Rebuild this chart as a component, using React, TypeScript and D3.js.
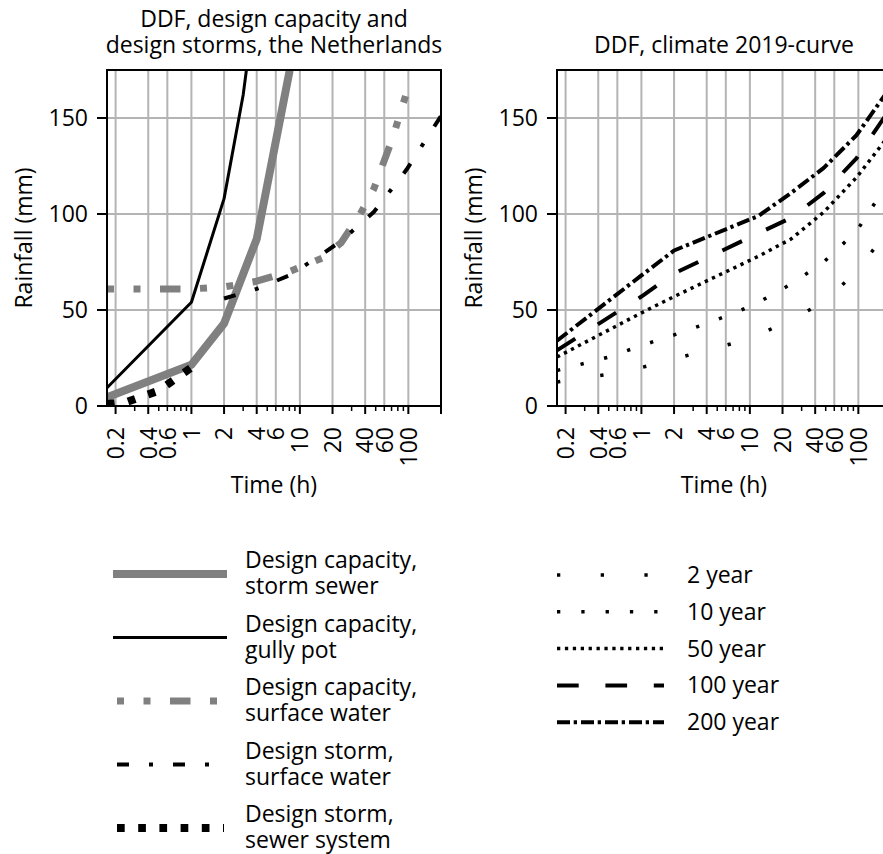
import React from "react";
import * as d3 from "d3";

// durations in hours, rainfall in mm
const stormSewer: [number, number][] = [[1 / 6, 4.5], [1, 21.5], [2, 43], [4, 87], [8, 174], [12, 260]];
const gullyPot: [number, number][] = [[1 / 6, 9.5], [1, 54], [2, 108], [3, 162], [4, 216]];
const capSurfaceWater: [number, number][] = [
  [1 / 6, 61], [1, 61], [2, 62], [4, 65], [8, 70], [16, 77], [24, 85], [36, 100], [48, 113], [72, 140], [96, 163],
];
const stormSurfaceWater: [number, number][] = [
  [2, 56], [4, 61], [8, 68], [16, 79], [24, 86], [48, 101], [96, 123], [200, 151],
];
const stormSewerSystem: [number, number][] = [[1 / 6, 1], [0.25, 2], [0.5, 8], [0.75, 15], [1, 20]];

const year2: [number, number][] = [
  [1 / 6, 12.5], [0.5, 16.5], [1, 20], [2, 24.5], [4, 29], [8, 33.5], [12, 37], [24, 45], [48, 54], [96, 70], [192, 92],
];
const year10: [number, number][] = [
  [1 / 6, 18.5], [0.5, 25.5], [1, 31.5], [2, 37], [4, 43], [8, 49.5], [12, 54], [24, 63.5], [48, 75], [96, 91], [192, 117],
];
const year50: [number, number][] = [
  [1 / 6, 25.5], [1, 48.5], [2, 57], [12, 78], [24, 87], [48, 101], [96, 119], [192, 141],
];
const year100: [number, number][] = [
  [1 / 6, 29], [1, 57], [2, 69], [12, 90], [24, 98], [48, 111], [96, 129], [192, 154],
];
const year200: [number, number][] = [
  [1 / 6, 34], [1, 68], [2, 81], [12, 99], [24, 111], [48, 124], [96, 141], [192, 165],
];

const xTickLabels = [0.2, 0.4, 0.6, 1, 2, 4, 6, 10, 20, 40, 60, 100];
const xLongTicks = [0.2, 0.4, 1, 2, 4, 10, 20, 40, 100, 200];
const yTicks = [0, 50, 100, 150];

const FONT = "'Open Sans', sans-serif";
const FS = 23;
const GRAY = "#808080";

type Series = { name: string[]; data: [number, number][]; color: string; width: number; dash?: string };

const leftSeries: Series[] = [
  { name: ["Design capacity,", "storm sewer"], data: stormSewer, color: GRAY, width: 8 },
  { name: ["Design capacity,", "gully pot"], data: gullyPot, color: "#000", width: 3 },
  { name: ["Design capacity,", "surface water"], data: capSurfaceWater, color: GRAY, width: 7, dash: "7 19.5 7 19.5 20.5 19.5" },
  { name: ["Design storm,", "surface water"], data: stormSurfaceWater, color: "#000", width: 4, dash: "12 20 4 20" },
  { name: ["Design storm,", "sewer system"], data: stormSewerSystem, color: "#000", width: 8, dash: "7.7 13.5" },
];
// drawing order differs from the legend order
const leftDrawOrder = [2, 0, 1, 3, 4];

const rightSeries: Series[] = [
  { name: ["2 year"], data: year2, color: "#000", width: 3.5, dash: "3.3 40.4" },
  { name: ["10 year"], data: year10, color: "#000", width: 3.5, dash: "3.3 21" },
  { name: ["50 year"], data: year50, color: "#000", width: 3.5, dash: "3.3 4.6" },
  { name: ["100 year"], data: year100, color: "#000", width: 4, dash: "21.7 26.7" },
  { name: ["200 year"], data: year200, color: "#000", width: 4, dash: "13 3.7 3.3 4" },
];

const fmt = (v: number) => (v < 1 ? String(v) : d3.format("d")(v));

function Panel({ id, left, title, series, order }: { id: string; left: number; title: string[]; series: Series[]; order: number[] }) {
  const top = 70;
  const bottom = 406;
  const x = d3.scaleLog().domain([1 / 6, 200]).range([left, left + 334]);
  const y = d3.scaleLinear().domain([0, 175]).range([bottom, top]);
  const right = left + 334;
  const line = d3
    .line<[number, number]>()
    .x((d) => x(d[0]))
    .y((d) => y(d[1]));

  // minor log ticks (2..9 per decade) that are not long ticks
  const minor: number[] = [];
  [0.1, 1, 10, 100].forEach((dec) => {
    for (let k = 2; k <= 9; k++) {
      const v = +(dec * k).toPrecision(3);
      if (v >= 1 / 6 && v <= 200 && !xLongTicks.includes(v)) minor.push(v);
    }
  });
  const cx = (left + right) / 2;

  return (
    <g>
      <defs>
        <clipPath id={id}>
          <rect x={left} y={top} width={right - left} height={bottom - top} />
        </clipPath>
      </defs>
      {title.map((t, i) => (
        <text key={t} x={cx} y={53 - (title.length - 1 - i) * 26} textAnchor="middle" fontSize={FS}>
          {t}
        </text>
      ))}
      {/* grid */}
      {xTickLabels.map((v) => (
        <line key={"gx" + v} x1={x(v)} x2={x(v)} y1={top} y2={bottom} stroke="#b4b4b4" strokeWidth={2} />
      ))}
      {yTicks.slice(1).map((v) => (
        <line key={"gy" + v} x1={left} x2={right} y1={y(v)} y2={y(v)} stroke="#b4b4b4" strokeWidth={2} />
      ))}
      {/* series */}
      <g clipPath={`url(#${id})`}>
        {order.map((i) => {
          const s = series[i];
          return (
            <path
              key={s.name.join(" ")}
              d={line(s.data) ?? ""}
              fill="none"
              stroke={s.color}
              strokeWidth={s.width}
              strokeDasharray={s.dash}
              strokeLinejoin="round"
            />
          );
        })}
      </g>
      {/* frame */}
      <rect x={left} y={top} width={right - left} height={bottom - top} fill="none" stroke="#000" strokeWidth={2} />
      {/* y axis */}
      {yTicks.map((v) => (
        <g key={"yt" + v}>
          <line x1={left - 10} x2={left} y1={y(v)} y2={y(v)} stroke="#000" strokeWidth={2} />
          <text x={left - 19} y={y(v)} dy="0.36em" textAnchor="end" fontSize={FS}>
            {v}
          </text>
        </g>
      ))}
      <text transform={`translate(${left - 75},${(top + bottom) / 2}) rotate(-90)`} textAnchor="middle" fontSize={FS}>
        Rainfall (mm)
      </text>
      {/* x axis */}
      {xLongTicks.map((v) => (
        <line key={"xl" + v} x1={x(v)} x2={x(v)} y1={bottom} y2={bottom + 8} stroke="#000" strokeWidth={2} />
      ))}
      {minor.map((v) => (
        <line key={"xm" + v} x1={x(v)} x2={x(v)} y1={bottom} y2={bottom + 5} stroke="#000" strokeWidth={1.5} />
      ))}
      {xTickLabels.map((v) => (
        <text
          key={"xt" + v}
          transform={`translate(${x(v)},${bottom + 21}) rotate(-90)`}
          dy="0.36em"
          textAnchor="end"
          fontSize={FS}
        >
          {fmt(v)}
        </text>
      ))}
      <text x={cx} y={493} textAnchor="middle" fontSize={FS}>
        Time (h)
      </text>
    </g>
  );
}

export default function App() {
  return (
    <svg
      width={883}
      height={854}
      style={{ position: "absolute", left: 0, top: 0, background: "#fff" }}
      fontFamily={FONT}
    >
      <rect width={883} height={854} fill="#fff" />
      <Panel
        id="clipL"
        left={107}
        title={["DDF, design capacity and", "design storms, the Netherlands"]}
        series={leftSeries}
        order={leftDrawOrder}
      />
      <Panel id="clipR" left={557} title={["DDF, climate 2019-curve"]} series={rightSeries} order={[0, 1, 2, 3, 4]} />

      {/* left legend */}
      {leftSeries.map((s, i) => {
        const ry = 574 + i * 63.5;
        return (
          <g key={"ll" + i}>
            <line
              x1={113}
              x2={s.dash ? 224 : 227}
              y1={ry}
              y2={ry}
              stroke={s.color}
              strokeWidth={s.width}
              strokeDasharray={s.dash}
              strokeDashoffset={s.dash ? -4 : undefined}
            />
            <text x={245} y={ry - 6} fontSize={FS}>
              {s.name[0]}
            </text>
            <text x={245} y={ry + 20} fontSize={FS}>
              {s.name[1]}
            </text>
          </g>
        );
      })}

      {/* right legend */}
      {rightSeries.map((s, i) => {
        const ry = 575 + i * 36.8;
        return (
          <g key={"rl" + i}>
            <line x1={557} x2={664} y1={ry} y2={ry} stroke={s.color} strokeWidth={s.width} strokeDasharray={s.dash} />
            <text x={687} y={ry + 8} fontSize={FS}>
              {s.name[0]}
            </text>
          </g>
        );
      })}
    </svg>
  );
}
